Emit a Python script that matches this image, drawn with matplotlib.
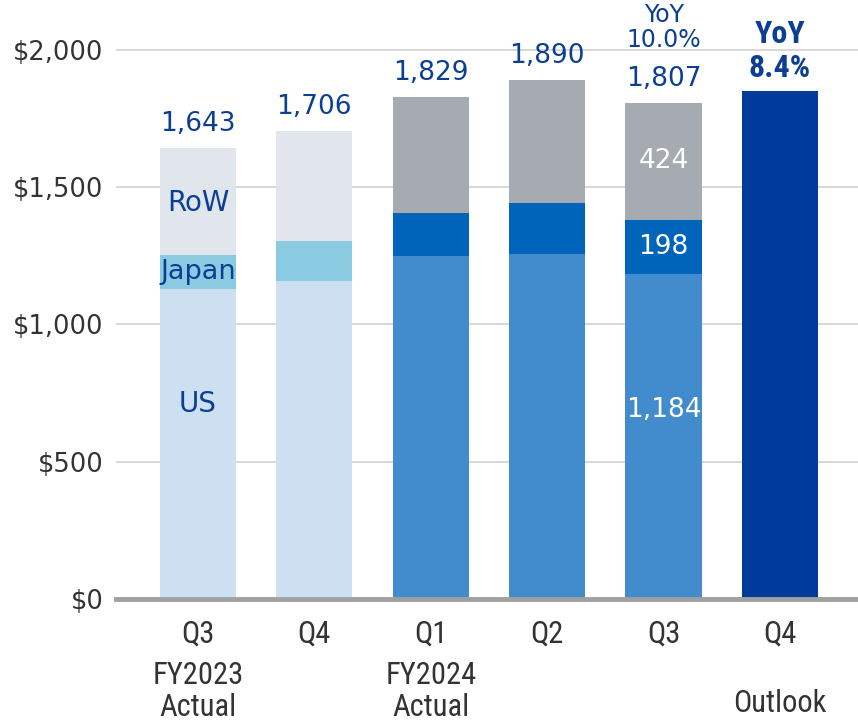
import numpy as np
import matplotlib
matplotlib.use('Agg')
import matplotlib.pyplot as plt

plt.rcParams['font.family'] = ['DejaVu Sans']

# quarterly revenue ($M)
quarters = ['Q3', 'Q4', 'Q1', 'Q2', 'Q3', 'Q4']
us = [1129, 1158, 1250, 1257, 1184]
japan = [124, 146, 156, 186, 198]
row = [390, 402, 423, 447, 424]
totals = [1643, 1706, 1829, 1890, 1807]
outlook = 1849
yoy_q3 = '10.0%'
yoy_outlook = '8.4%'

navy = '#0c3f94'
fy23 = {'us': '#cde0f1', 'japan': '#8acbe1', 'row': '#e1e6ed'}
fy24 = {'us': '#428bcd', 'japan': '#0064bb', 'row': '#a6abb1'}
cond = ['Roboto Condensed', 'DejaVu Sans']

W, H = 858, 722
fig = plt.figure(figsize=(W / 100, H / 100), dpi=100)
ax = fig.add_axes([116 / W, 1 - 599 / H, 1 - 116 / W, 599 / H])

x = np.arange(len(quarters))
width = 0.655
n = len(us)
us_c = [fy23['us']] * 2 + [fy24['us']] * 3
jp_c = [fy23['japan']] * 2 + [fy24['japan']] * 3
rw_c = [fy23['row']] * 2 + [fy24['row']] * 3

ax.bar(x[:n], us, width, color=us_c, zorder=2)
ax.bar(x[:n], japan, width, bottom=us, color=jp_c, zorder=2)
ax.bar(x[:n], row, width, bottom=np.add(us, japan), color=rw_c, zorder=2)
ax.bar(x[5], outlook, width, color='#003a9b', zorder=2)

ax.set_xlim(-0.704, 5.67)
ax.set_ylim(0, 2182)

ax.set_yticks([0, 500, 1000, 1500, 2000])
ax.set_yticklabels(['$0', '$500', '$1,000', '$1,500', '$2,000'])
ax.yaxis.grid(True, color='#d4d4d4', lw=1.3)
ax.set_axisbelow(True)
ax.tick_params(axis='y', length=0, pad=9, labelsize=18.5, labelcolor='#333333')
ax.set_xticks(x)
ax.set_xticklabels(quarters, fontsize=22, family=cond, color='#333333')
ax.tick_params(axis='x', length=0, pad=15)
for s in ax.spines.values():
    s.set_visible(False)
ax.axhline(0, color='#a0a0a0', lw=3.5, clip_on=False, zorder=3)

# totals above bars
for i, t in enumerate(totals):
    ax.text(x[i], t + 88, f'{t:,}', ha='center', va='center', fontsize=19, color=navy)

# segment labels
ax.text(x[0], 1443, 'RoW', ha='center', va='center', fontsize=20, color=navy)
ax.text(x[0], 1191, 'Japan', ha='center', va='center', fontsize=19.5, color=navy)
ax.text(x[0], 710, 'US', ha='center', va='center', fontsize=20, color=navy)
ax.text(x[4], us[4] + japan[4] + row[4] / 2, f'{row[4]}', ha='center', va='center',
        fontsize=19, color='white')
ax.text(x[4], us[4] + japan[4] / 2, f'{japan[4]}', ha='center', va='center',
        fontsize=19, color='white')
ax.text(x[4], 688, f'{us[4]:,}', ha='center', va='center', fontsize=19, color='white')

# YoY callouts
ax.text(x[4], 2127, 'YoY', ha='center', va='center', fontsize=17, color=navy)
ax.text(x[4], 2036, yoy_q3, ha='center', va='center', fontsize=17, color=navy)
ax.text(x[5], 2058, 'YoY', ha='center', va='center', fontsize=23, color=navy,
        fontweight='bold', family=cond)
ax.text(x[5], 1934, yoy_outlook, ha='center', va='center', fontsize=23, color=navy,
        fontweight='bold', family=cond)

# period labels
lab = dict(ha='center', va='center', fontsize=22, color='#333333', family=cond)
ax.text(x[0], -280, 'FY2023', **lab)
ax.text(x[0], -397, 'Actual', **lab)
ax.text(x[2], -280, 'FY2024', **lab)
ax.text(x[2], -397, 'Actual', **lab)
ax.text(x[5], -379, 'Outlook', **lab)

fig.savefig('out.png', dpi=100)
